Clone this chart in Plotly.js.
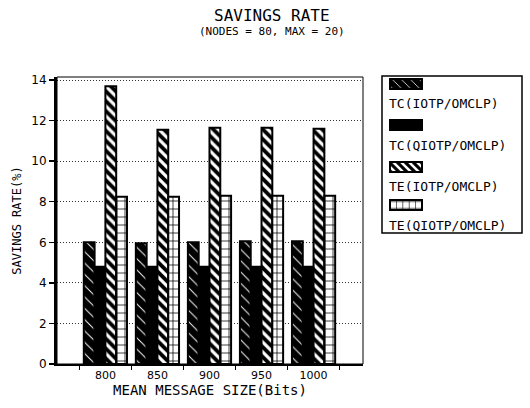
<!DOCTYPE html>
<html>
<head>
<meta charset="utf-8">
<script src="https://cdn.plot.ly/plotly-3.0.1.min.js"></script>
<style>html,body{margin:0;padding:0;background:#fff;}#chart{width:530px;height:408px;}</style>
</head>
<body>
<div id="chart"></div>
<script>
// ---- data ----
const categories = ["800", "850", "900", "950", "1000"];
const seriesNames = ["TC(IOTP/OMCLP)", "TC(QIOTP/OMCLP)", "TE(IOTP/OMCLP)", "TE(QIOTP/OMCLP)"];
const tcIotp  = [6.0, 5.95, 6.0, 6.05, 6.05];
const tcQiotp = [4.8, 4.8, 4.8, 4.8, 4.8];
const teIotp  = [13.7, 11.55, 11.65, 11.65, 11.6];
const teQiotp = [8.25, 8.25, 8.3, 8.3, 8.3];
const yTicks  = [0, 2, 4, 6, 8, 10, 12, 14];
const titleText = "SAVINGS RATE";
const subtitleText = "(NODES = 80, MAX = 20)";

const MONO = "DejaVu Sans Mono";
const SANS = "DejaVu Sans";

const styles = [
  {color: "black", line: {color: "black", width: 2}, pattern: {shape: "\\", bgcolor: "black", fgcolor: "white", size: 8, solidity: 0.12, fillmode: "replace"}},
  {color: "black", line: {color: "black", width: 2}},
  {color: "black", line: {color: "black", width: 2}, pattern: {shape: "\\", bgcolor: "black", fgcolor: "white", size: 7, solidity: 0.45, fillmode: "replace"}},
  {color: "white", line: {color: "black", width: 2}, pattern: {shape: "+", bgcolor: "white", fgcolor: "black", size: 8, solidity: 0.18, fillmode: "replace"}}
];
const values = [tcIotp, tcQiotp, teIotp, teQiotp];
const legendIds = ["legend", "legend2", "legend3", "legend4"];

const traces = values.map((v, i) => ({
  type: "bar",
  x: categories,
  y: v,
  name: " ",
  legend: legendIds[i],
  marker: styles[i],
  hoverinfo: "skip"
}));

// plot area in pixels: left 57, right 363, top 77, bottom 364
const L = 57, R = 363, T = 77, B = 364;
const px2x = p => (p - L) / (R - L);
const px2y = p => (B - p) / (B - T);

const swatchY = [84, 125, 167, 205];
const labelY  = [103, 145, 186, 225];

const annotations = seriesNames.map((n, i) => ({
  text: n, xref: "paper", yref: "paper",
  x: px2x(387), y: px2y(labelY[i]), xanchor: "left", yanchor: "middle",
  showarrow: false, font: {family: MONO, size: 13, color: "black"}
}));
annotations.push({
  text: titleText, xref: "paper", yref: "paper",
  x: px2x(272), y: px2y(15), xanchor: "center", yanchor: "middle",
  showarrow: false, font: {family: MONO, size: 16, color: "black"}
});
annotations.push({
  text: subtitleText, xref: "paper", yref: "paper",
  x: px2x(272), y: px2y(32), xanchor: "center", yanchor: "middle",
  showarrow: false, font: {family: MONO, size: 11, color: "black"}
});

const layout = {
  width: 530, height: 408,
  margin: {l: L, r: 530 - R, t: T, b: 408 - B},
  paper_bgcolor: "white", plot_bgcolor: "white",
  font: {family: SANS, color: "black", size: 12},
  bargap: 0.17, bargroupgap: 0,
  barmode: "group",
  xaxis: {
    type: "category",
    range: [-0.93, 4.95],
    tickson: "boundaries",
    ticks: "outside", ticklen: 4, tickwidth: 1, tickcolor: "black",
    showline: true, linecolor: "black", linewidth: 2,
    showgrid: false, zeroline: false,
    tickfont: {family: SANS, size: 11, color: "black"},
    title: {text: "MEAN MESSAGE SIZE(Bits)", font: {family: MONO, size: 14, color: "black"}, standoff: 3}
  },
  yaxis: {
    range: [0, 14.15],
    tickvals: yTicks,
    ticks: "outside", ticklen: 5, tickwidth: 1.5, tickcolor: "black",
    showline: true, linecolor: "black", linewidth: 3,
    showgrid: true, gridcolor: "#333", gridwidth: 1, griddash: "1px,2px",
    zeroline: false,
    tickfont: {family: SANS, size: 12, color: "black"},
    title: {text: "SAVINGS RATE(%)", font: {family: MONO, size: 12, color: "black"}, standoff: 8}
  },
  shapes: [
    {type: "rect", xref: "paper", yref: "paper", x0: 0, x1: 1, y0: 0, y1: 1, line: {color: "black", width: 1}, layer: "above"},
    {type: "rect", xref: "paper", yref: "paper", x0: px2x(382), x1: px2x(522), y0: px2y(76), y1: px2y(233), line: {color: "black", width: 1.5}}
  ],
  annotations: annotations,
  showlegend: true
};
legendIds.forEach((id, i) => {
  layout[id] = {
    x: px2x(386), xanchor: "left",
    y: px2y(swatchY[i]), yanchor: "middle",
    bgcolor: "rgba(0,0,0,0)", borderwidth: 0,
    font: {family: MONO, size: 12}
  };
});

Plotly.newPlot("chart", traces, layout, {staticPlot: true}).then(gd => {
  // widen the legend swatches to the reference's wide, flat boxes
  gd.querySelectorAll(".legendpoints path").forEach(p => {
    p.setAttribute("d", "M16,5H-16V-5H16Z");
  });
});
</script>
</body>
</html>
